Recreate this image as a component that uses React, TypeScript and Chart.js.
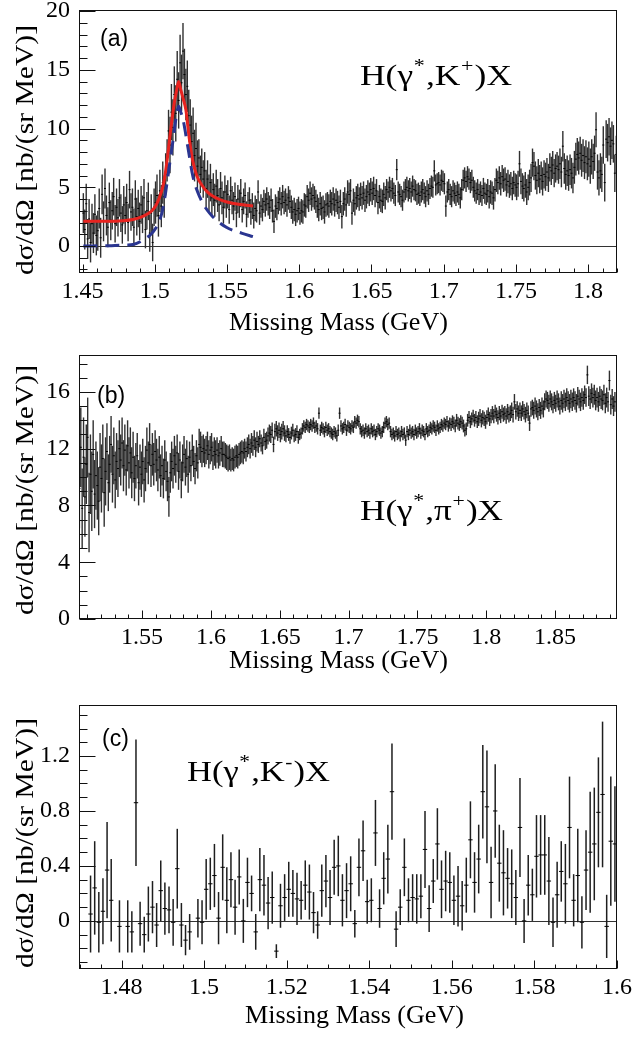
import React, { useEffect, useRef } from 'react';
import { Chart, registerables } from 'chart.js';

Chart.register(...registerables);

const SERIF = '"Liberation Serif", "Times New Roman", serif';
const SANS = '"Liberation Sans", Arial, sans-serif';
Chart.defaults.font.family = SERIF;

// ---------------- common text ----------------
const X_TITLE = 'Missing Mass (GeV)';
const Y_TITLE = 'dσ/dΩ [nb/(sr MeV)]';

// ---------------- panel (a): H(γ*,K+)X ----------------
const A_BIN_START = 1.4505; // centre of first 1 MeV bin (GeV)
const A_BIN_WIDTH = 0.001;
const A_VALUES = [
  2.8,1.4,3.6,0.6,2.3,0.3,1.9,1.1,2.7,0.9,
  1.3,3.2,0.7,4.4,2.1,4.9,2.6,1.6,3.7,2.2,
  3.0,4.2,1.9,3.3,2.4,4.1,2.8,1.8,3.5,2.6,
  3.7,2.0,4.8,2.9,3.3,1.6,4.0,2.5,3.2,2.1,
  3.5,2.7,4.1,1.4,3.0,3.8,1.1,2.8,0.3,3.3,
  3.7,4.3,2.6,4.7,3.4,5.4,4.2,6.1,7.3,9.8,
  8.6,11.4,10.1,12.9,11.3,14.2,12.4,15.6,13.9,16.6,
  14.6,12.9,13.6,11.1,10.3,8.9,9.6,7.7,8.3,6.8,
  7.5,6.1,6.7,5.7,6.4,4.9,5.7,4.5,5.4,4.1,
  4.8,3.9,5.1,4.3,3.5,4.9,4.1,3.3,4.6,3.8,
  4.4,3.1,4.7,3.9,3.4,4.2,2.8,4.0,3.6,4.5,
  3.1,3.8,4.3,2.7,3.5,3.9,2.9,3.4,2.6,3.2,
  3.0,4.6,2.8,3.4,3.1,3.8,3.5,4.0,3.6,3.3,
  3.9,3.0,2.1,3.4,3.2,3.7,4.0,3.6,4.2,3.7,
  3.9,3.5,4.1,3.8,3.3,2.9,3.1,2.7,3.0,3.2,
  2.8,3.0,2.9,3.5,3.4,4.2,3.9,4.5,4.0,4.3,
  4.1,3.8,3.4,3.1,3.6,3.2,3.3,2.9,3.5,3.6,
  3.4,3.8,3.6,4.0,3.5,3.9,3.7,3.3,3.8,2.5,
  3.6,4.0,3.5,4.6,4.4,4.7,2.8,3.9,3.6,4.1,
  4.3,4.0,4.4,4.1,4.5,3.9,4.2,4.6,4.4,4.8,
  4.5,4.9,4.3,4.7,3.7,4.2,3.9,3.8,4.4,4.1,
  4.8,4.6,5.0,4.7,4.9,4.5,4.3,6.5,4.6,4.4,
  4.2,3.9,4.6,4.8,5.0,4.7,4.9,4.6,5.1,4.8,
  4.7,4.4,4.5,4.3,4.6,4.8,4.5,4.2,4.7,4.4,
  4.9,5.1,5.0,6.4,5.2,5.3,5.4,5.2,5.6,5.5,
  5.3,3.4,4.6,4.8,4.4,4.2,4.7,4.5,4.3,4.6,
  4.4,4.1,4.8,5.6,5.8,5.5,5.9,5.7,5.4,5.6,
  5.0,4.7,4.5,4.8,4.4,4.6,4.3,4.9,4.5,4.4,
  4.7,4.2,4.6,4.5,4.1,4.8,5.6,5.4,5.8,5.3,
  5.9,5.6,5.7,5.2,5.5,5.1,5.3,4.9,5.4,5.2,
  5.0,5.3,7.0,5.5,5.1,4.9,5.2,4.6,5.0,5.4,
  5.8,7.1,6.8,6.0,5.6,6.2,5.7,6.0,5.5,6.1,
  5.9,6.3,5.8,6.7,6.4,6.9,6.2,6.6,6.8,6.5,
  7.0,6.3,8.5,6.6,6.1,6.4,6.0,6.5,6.2,5.8,
  6.7,7.4,7.8,7.5,7.9,7.3,7.7,7.1,7.6,7.0,
  7.4,6.8,7.6,7.2,7.9,9.9,6.3,5.8,6.4,6.1,
  8.6,5.4,9.1,8.8,9.3,8.5,9.0,8.7,6.2,7.8,
];
// statistical error, one value per block of 10 bins
const A_ERR_BLOCKS = [1.7,1.7,1.6,1.6,1.6,1.8,2.4,2.2,1.6,1.4,1.2,1.1,1.0,1.0,1.0,1.0,1.0,1.0,1.0,1.0,1.0,0.9,0.9,0.9,0.9,0.9,0.9,0.9,1.0,1.0,1.1,1.2,1.2,1.3,1.4,1.5,1.6];
// total fit (red) and Breit-Wigner part (blue dashed)
const A_FIT_X = [1.4505,1.465,1.478,1.485,1.4905,1.4945,1.498,1.501,1.5045,1.5065,1.5085,1.5114,1.5135,1.515,1.5165,1.518,1.5195,1.5215,1.5235,1.526,1.529,1.5325,1.536,1.54,1.545,1.55,1.558,1.568];
const A_FIT_Y = [2.1,2.1,2.15,2.25,2.45,2.7,3.0,3.5,4.6,5.6,7.3,10.3,12.2,13.2,14.0,13.3,12.6,11.6,9.5,7.4,6.0,5.2,4.65,4.25,3.95,3.75,3.55,3.4];
const A_BW_X = [1.4505,1.47,1.48,1.4849,1.4918,1.4988,1.5034,1.5058,1.508,1.5105,1.5126,1.5148,1.5165,1.518,1.5195,1.5229,1.5264,1.531,1.5379,1.5495,1.56,1.5679];
const A_BW_Y = [0.0,0.03,0.08,0.12,0.5,1.2,2.2,3.3,5.0,7.2,9.0,11.0,11.9,11.4,10.8,8.4,5.9,4.2,2.8,1.6,1.1,0.8];
const A_X_TICKS = [1.45,1.5,1.55,1.6,1.65,1.7,1.75,1.8];
const A_X_LABELS = ['1.45','1.5','1.55','1.6','1.65','1.7','1.75','1.8'];
const A_Y_TICKS = [0,5,10,15,20];
const A_Y_LABELS = ['0','5','10','15','20'];
const A_TAG = '(a)';
const A_REACTION = [['H(γ', false], ['*', true], [',K', false], ['+', true], [')X', false]];

// ---------------- panel (b): H(γ*,π+)X ----------------
const B_BIN_START = 1.5045;
const B_BIN_WIDTH = 0.001;
const B_VALUES = [
  9.2,12.1,7.8,11.4,8.6,10.9,12.8,7.5,10.2,9.0,
  11.6,8.8,10.1,9.4,8.3,10.7,9.9,11.3,8.9,10.4,
  11.8,9.6,10.9,12.3,10.2,11.5,9.8,11.1,10.6,12.0,
  11.2,12.4,10.8,11.9,10.5,12.2,11.0,11.7,10.3,11.4,
  9.9,10.8,11.5,9.6,10.7,10.2,11.1,9.8,10.6,11.9,
  11.0,12.3,10.8,11.6,10.9,11.8,11.2,10.5,11.4,10.1,
  10.8,9.9,11.2,10.4,9.7,8.6,10.3,11.1,10.6,11.5,
  10.9,11.7,10.4,11.2,9.8,11.0,11.6,10.7,11.3,10.2,
  11.4,10.8,11.9,11.1,10.6,11.5,11.0,12.3,12.1,11.8,
  12.0,11.7,11.9,12.2,11.6,11.9,12.1,11.5,11.8,11.6,
  11.9,11.5,11.7,12.0,11.6,11.6,11.5,11.4,11.3,11.4,
  11.2,11.3,11.2,11.4,11.5,11.4,11.6,11.7,11.8,11.7,
  12.0,11.8,12.1,12.3,12.0,12.4,12.2,12.6,12.1,12.5,
  12.3,12.7,12.4,12.2,12.8,12.5,12.6,12.9,13.1,13.0,
  13.3,12.3,13.2,13.4,13.1,13.3,13.0,13.2,13.4,13.1,
  12.9,13.2,13.0,12.8,13.1,13.3,12.9,13.0,13.2,12.8,
  13.0,13.1,13.4,13.6,13.5,13.7,13.6,13.5,13.7,13.6,
  13.8,13.5,13.6,13.4,14.5,13.3,13.5,13.4,13.2,13.5,
  13.3,13.4,13.2,13.1,13.0,13.2,13.1,12.9,13.3,14.5,
  13.6,13.4,13.5,13.7,13.3,13.6,13.5,13.4,13.6,13.5,
  13.9,13.8,14.0,13.9,13.4,13.2,13.3,13.1,13.4,13.2,
  13.3,13.1,13.4,13.2,13.3,13.0,13.2,13.4,13.3,13.1,
  13.2,13.5,13.8,13.9,13.7,13.8,13.2,13.0,13.1,12.9,
  13.2,13.0,13.1,12.9,13.2,13.0,13.1,12.6,13.2,13.0,
  13.3,13.1,13.2,13.0,13.3,13.1,13.2,13.4,13.1,13.3,
  13.2,13.0,13.4,13.2,13.3,13.5,13.4,13.6,13.5,13.3,
  13.6,13.4,13.5,13.7,13.6,13.8,13.7,13.9,13.6,13.8,
  13.7,13.9,13.8,13.6,14.0,13.8,13.7,13.9,13.8,13.6,
  13.3,13.4,14.0,14.2,13.9,14.1,14.3,14.0,14.2,13.9,
  14.1,14.3,14.0,14.2,14.1,13.9,14.2,14.4,14.1,14.3,
  14.5,14.3,14.6,14.4,14.2,14.5,14.3,14.6,14.4,14.5,
  14.3,14.6,14.4,14.5,14.7,14.4,15.3,14.6,14.8,14.5,
  14.7,14.5,14.8,14.6,14.4,14.7,14.5,13.8,14.8,14.9,
  14.7,15.0,14.8,14.6,14.9,14.7,15.0,14.8,15.3,15.5,
  15.4,15.2,15.5,15.3,15.1,15.4,15.2,15.5,15.3,15.0,
  15.4,15.2,15.5,15.3,15.6,15.4,15.2,15.5,15.3,15.6,
  15.4,15.2,15.7,15.5,15.3,15.6,15.4,15.8,15.6,17.2,
  15.7,15.5,15.9,15.6,15.8,15.4,15.6,15.3,15.7,15.5,
  15.4,15.8,15.2,15.6,15.3,16.8,15.1,15.5,15.0,15.3,
];
const B_ERR_BLOCKS = [2.8,2.4,2.0,1.8,1.6,1.5,1.4,1.3,1.1,1.0,0.9,0.8,0.7,0.6,0.55,0.45,0.4,0.4,0.4,0.4,0.4,0.4,0.4,0.4,0.4,0.4,0.4,0.45,0.45,0.5,0.5,0.55,0.55,0.6,0.6,0.65,0.65,0.7,0.7];
const B_X_TICKS = [1.55,1.6,1.65,1.7,1.75,1.8,1.85];
const B_X_LABELS = ['1.55','1.6','1.65','1.7','1.75','1.8','1.85'];
const B_Y_TICKS = [0,4,8,12,16];
const B_Y_LABELS = ['0','4','8','12','16'];
const B_TAG = '(b)';
const B_REACTION = [['H(γ', false], ['*', true], [',π', false], ['+', true], [')X', false]];

// ---------------- panel (c): H(γ*,K-)X ----------------
const C_BIN_START = 1.4705;
const C_BIN_WIDTH = 0.001;
const C_VALUES = [
  null,null,0.05,0.24,-0.01,0.07,0.37,0.15,null,-0.04,
  null,-0.04,-0.08,0.86,-0.02,-0.1,0.05,0.1,-0.03,0.22,
  0.09,0.08,-0.01,0.38,-0.03,-0.14,-0.08,null,0.02,-0.01,
  0.23,0.27,0.33,0.02,0.39,0.15,0.3,0.1,0.32,0.0,
  0.28,0.2,-0.08,0.3,0.26,0.13,0.17,-0.22,0.11,0.17,
  0.23,0.2,0.16,0.15,0.26,0.21,0.06,-0.03,0.22,0.29,
  0.17,0.39,0.4,0.15,0.22,0.27,-0.02,0.39,0.51,0.14,
  0.15,0.64,0.09,0.31,0.45,0.94,-0.06,0.1,0.39,0.15,
  0.17,0.16,0.18,0.52,0.09,0.29,0.56,0.23,0.29,0.28,
  0.15,0.18,0.11,0.26,0.59,0.28,0.45,0.94,0.83,0.28,
  0.8,0.42,0.35,0.31,0.27,0.17,0.68,0.0,0.26,0.19,
  0.47,0.48,0.48,0.29,-0.01,0.19,0.36,0.27,0.68,0.15,
  0.33,-0.01,0.37,0.5,0.56,0.79,0.92,-0.04,0.58,0.56,
];
const C_ERRORS = [
  0,0,0.28,0.34,0.22,0.24,0.35,0.3,0,0.19,
  0,0.19,0.15,0.46,0.16,0.13,0.2,0.19,0.16,0.22,
  0.19,0.17,0.17,0.29,0.16,0.11,0.13,0,0.14,0.16,
  0.22,0.19,0.23,0.19,0.24,0.24,0.2,0.2,0.2,0.16,
  0.18,0.13,0.13,0.23,0.22,0.19,0.19,0.05,0.16,0.17,
  0.2,0.17,0.19,0.14,0.18,0.2,0.15,0.1,0.19,0.19,
  0.2,0.2,0.22,0.19,0.2,0.2,0.1,0.21,0.22,0.16,
  0.16,0.24,0.14,0.19,0.25,0.35,0.13,0.13,0.21,0.16,
  0.17,0.18,0.16,0.28,0.17,0.16,0.26,0.21,0.22,0.22,
  0.18,0.22,0.18,0.2,0.28,0.22,0.25,0.34,0.41,0.26,
  0.34,0.28,0.31,0.22,0.25,0.2,0.36,0.16,0.22,0.19,
  0.3,0.29,0.29,0.32,0.18,0.24,0.22,0.29,0.37,0.19,
  0.34,0.19,0.29,0.44,0.41,0.4,0.53,0.23,0.47,0.42,
];
const C_X_TICKS = [1.48,1.5,1.52,1.54,1.56,1.58,1.6];
const C_X_LABELS = ['1.48','1.5','1.52','1.54','1.56','1.58','1.6'];
const C_Y_TICKS = [0,0.4,0.8,1.2];
const C_Y_LABELS = ['0','0.4','0.8','1.2'];
const C_TAG = '(c)';
const C_REACTION = [['H(γ', false], ['*', true], [',K', false], ['-', true], [')X', false]];

// ---------------- panel layout / styling ----------------
const PANELS: any[] = [
  {
    top: 0, height: 340, plotTop: 10, plotBottom: 273,
    xMin: 1.4475, xMax: 1.82, yMin: -2.3, yMax: 20.1,
    binStart: A_BIN_START, binWidth: A_BIN_WIDTH, values: A_VALUES,
    errorOf: (i: number) => A_ERR_BLOCKS[Math.floor(i / 10)],
    xTicks: A_X_TICKS, xLabels: A_X_LABELS, xMinor: 0.01,
    yTicks: A_Y_TICKS, yLabels: A_Y_LABELS, yMinor: 1,
    zeroLine: true, barWidth: 1.4, barColor: '#303030', markRadius: 1,
    curves: [
      { xs: A_FIT_X, ys: A_FIT_Y, color: '#e8231f', dash: [] },
      { xs: A_BW_X, ys: A_BW_Y, color: '#2a3590', dash: [14, 8] },
    ],
    tag: A_TAG, tagPos: [100, 46],
    reaction: A_REACTION, reactionPos: [360, 85], reactionWidth: 152,
    xTitlePos: [229, 330], yTitlePos: [33, 150],
  },
  {
    top: 340, height: 340, plotTop: 15, plotBottom: 279,
    xMin: 1.5042, xMax: 1.895, yMin: 0, yMax: 18.6,
    binStart: B_BIN_START, binWidth: B_BIN_WIDTH, values: B_VALUES,
    errorOf: (i: number) => B_ERR_BLOCKS[Math.floor(i / 10)],
    xTicks: B_X_TICKS, xLabels: B_X_LABELS, xMinor: 0.01,
    yTicks: B_Y_TICKS, yLabels: B_Y_LABELS, yMinor: 1,
    zeroLine: false, barWidth: 1.4, barColor: '#303030', markRadius: 1,
    curves: [],
    tag: B_TAG, tagPos: [97, 63],
    reaction: B_REACTION, reactionPos: [360, 180], reactionWidth: 143,
    xTitlePos: [229, 328], yTitlePos: [33, 150],
  },
  {
    top: 680, height: 361, plotTop: 25, plotBottom: 289,
    xMin: 1.4697, xMax: 1.6, yMin: -0.35, yMax: 1.571,
    binStart: C_BIN_START, binWidth: C_BIN_WIDTH, values: C_VALUES,
    errorOf: (i: number) => C_ERRORS[i],
    xTicks: C_X_TICKS, xLabels: C_X_LABELS, xMinor: 0.005,
    yTicks: C_Y_TICKS, yLabels: C_Y_LABELS, yMinor: 0.1,
    zeroLine: true, barWidth: 1.5, barColor: '#1e1e1e', markRadius: 2.2,
    curves: [],
    tag: C_TAG, tagPos: [102, 66],
    reaction: C_REACTION, reactionPos: [187, 101], reactionWidth: 143,
    xTitlePos: [245, 343], yTitlePos: [33, 163],
  },
];
const Y_TITLE_LENGTH = 250;
const X_TITLE_LENGTH = 219;

function fillStretched(ctx: CanvasRenderingContext2D, text: string, x: number, y: number, width: number) {
  const w = ctx.measureText(text).width;
  ctx.save();
  ctx.translate(x, y);
  ctx.scale(width / w, 1);
  ctx.fillText(text, 0, 0);
  ctx.restore();
}

function drawRich(ctx: CanvasRenderingContext2D, parts: any[], x: number, y: number, size: number, width: number) {
  ctx.textAlign = 'left';
  ctx.textBaseline = 'alphabetic';
  const fontOf = (sup: boolean) => `${sup ? size * 0.62 : size}px ${SERIF}`;
  let total = 0;
  for (const [t, sup] of parts) { ctx.font = fontOf(sup); total += ctx.measureText(t).width + (sup ? 1.5 : 0); }
  ctx.save();
  ctx.translate(x, y);
  ctx.scale(width / total, 1);
  let cx = 0;
  for (const [t, sup] of parts) {
    ctx.font = fontOf(sup);
    ctx.fillText(t, cx + (sup ? 0.5 : 0), sup ? -size * 0.42 : 0);
    cx += ctx.measureText(t).width + (sup ? 1.5 : 0);
  }
  ctx.restore();
}

function minorValues(min: number, max: number, step: number, majors: number[]) {
  const out: number[] = [];
  const i0 = Math.ceil(min / step - 1e-6);
  const i1 = Math.floor(max / step + 1e-6);
  for (let i = i0; i <= i1; i++) {
    const v = i * step;
    if (majors.some((m) => Math.abs(m - v) < step * 0.01)) continue;
    out.push(v);
  }
  return out;
}

function makeDecor(p: any) {
  return {
    id: 'decor',
    beforeDatasetsDraw(chart: any) {
      if (!p.zeroLine) return;
      const ctx = chart.ctx;
      const { left, right } = chart.chartArea;
      const y0 = Math.round(chart.scales.y.getPixelForValue(0)) + 0.5;
      ctx.save();
      ctx.strokeStyle = '#333';
      ctx.lineWidth = 1;
      ctx.beginPath();
      ctx.moveTo(left, y0);
      ctx.lineTo(right, y0);
      ctx.stroke();
      ctx.restore();
    },
    afterDatasetsDraw(chart: any) {
      const ctx = chart.ctx;
      const xs = chart.scales.x;
      const ys = chart.scales.y;
      const { left, right, top, bottom } = chart.chartArea;
      ctx.save();
      ctx.strokeStyle = '#111';
      ctx.lineWidth = 1;
      ctx.strokeRect(Math.round(left) + 0.5, Math.round(top) + 0.5, Math.round(right - left) - 1, Math.round(bottom - top) - 1);
      ctx.beginPath();
      const xb = Math.round(bottom) - 0.5;
      for (const v of p.xTicks) {
        const px = Math.round(xs.getPixelForValue(v)) + 0.5;
        ctx.moveTo(px, xb); ctx.lineTo(px, xb - 8);
      }
      for (const v of minorValues(p.xMin, p.xMax, p.xMinor, p.xTicks)) {
        const px = Math.round(xs.getPixelForValue(v)) + 0.5;
        ctx.moveTo(px, xb); ctx.lineTo(px, xb - 4);
      }
      const yl = Math.round(left) + 0.5;
      for (const v of p.yTicks) {
        const py = Math.round(ys.getPixelForValue(v)) + 0.5;
        ctx.moveTo(yl, py); ctx.lineTo(yl + 16, py);
      }
      for (const v of minorValues(p.yMin, p.yMax, p.yMinor, p.yTicks)) {
        const py = Math.round(ys.getPixelForValue(v)) + 0.5;
        ctx.moveTo(yl, py); ctx.lineTo(yl + 8, py);
      }
      ctx.stroke();
      ctx.restore();
    },
    afterDraw(chart: any) {
      const ctx = chart.ctx;
      ctx.save();
      ctx.fillStyle = '#000';
      ctx.textAlign = 'left';
      ctx.textBaseline = 'alphabetic';
      // x title
      ctx.font = `25px ${SERIF}`;
      fillStretched(ctx, X_TITLE, p.xTitlePos[0], p.xTitlePos[1], X_TITLE_LENGTH);
      // y title (rotated)
      ctx.font = `26px ${SERIF}`;
      ctx.save();
      ctx.translate(p.yTitlePos[0], p.yTitlePos[1]);
      ctx.rotate(-Math.PI / 2);
      fillStretched(ctx, Y_TITLE, -Y_TITLE_LENGTH / 2, 0, Y_TITLE_LENGTH);
      ctx.restore();
      // panel tag
      ctx.font = `23px ${SANS}`;
      ctx.fillText(p.tag, p.tagPos[0], p.tagPos[1]);
      // reaction
      drawRich(ctx, p.reaction, p.reactionPos[0], p.reactionPos[1], 30, p.reactionWidth);
      ctx.restore();
    },
  };
}

function createChart(canvas: HTMLCanvasElement, p: any) {
  const bars: any[] = [];
  const marks: any[] = [];
  p.values.forEach((v: number | null, i: number) => {
    if (v === null || v === undefined) return;
    const e = p.errorOf(i);
    const x = p.binStart + p.binWidth * i;
    bars.push({ x, y: [v - e, v + e] });
    marks.push({ x, y: v });
  });
  const datasets: any[] = [
    {
      type: 'bar', data: bars, backgroundColor: p.barColor, borderWidth: 0,
      barThickness: p.barWidth, inflateAmount: 0, grouped: false, order: 5,
    },
    {
      type: 'line', data: marks, showLine: false, pointStyle: 'line',
      pointRadius: p.markRadius, pointBorderColor: '#000', pointBackgroundColor: '#000',
      pointBorderWidth: 1, order: 4,
    },
  ];
  p.curves.forEach((c: any, idx: number) => {
    datasets.push({
      type: 'line',
      data: c.xs.map((x: number, i: number) => ({ x, y: c.ys[i] })),
      borderColor: c.color, borderWidth: 3, borderDash: c.dash,
      pointRadius: 0, cubicInterpolationMode: 'monotone', fill: false,
      order: 2 - idx,
    });
  });
  const zeroPad = (s: any) => { s.paddingLeft = 0; s.paddingRight = 0; s.paddingTop = 0; s.paddingBottom = 0; };
  return new Chart(canvas, {
    type: 'bar',
    data: { datasets },
    plugins: [makeDecor(p)],
    options: {
      responsive: false,
      animation: false,
      devicePixelRatio: 1,
      events: [],
      layout: { padding: { left: 0, right: 634 - 617, top: p.plotTop, bottom: 0 } },
      plugins: { legend: { display: false }, tooltip: { enabled: false } },
      scales: {
        x: {
          type: 'linear', min: p.xMin, max: p.xMax, offset: false,
          grid: { display: false, drawTicks: false }, border: { display: false },
          ticks: {
            autoSkip: false, maxRotation: 0, minRotation: 0, padding: 4, color: '#000',
            font: { family: SERIF, size: 24 },
            callback: (_v: any, i: number) => p.xLabels[i],
          },
          afterBuildTicks: (s: any) => { s.ticks = p.xTicks.map((v: number) => ({ value: v })); },
          afterFit: (s: any) => { s.height = p.height - p.plotBottom; zeroPad(s); },
        },
        y: {
          type: 'linear', min: p.yMin, max: p.yMax,
          grid: { display: false, drawTicks: false }, border: { display: false },
          ticks: {
            autoSkip: false, padding: 9, color: '#000',
            font: { family: SERIF, size: 24 },
            callback: (_v: any, i: number) => p.yLabels[i],
          },
          afterBuildTicks: (s: any) => { s.ticks = p.yTicks.map((v: number) => ({ value: v })); },
          afterFit: (s: any) => { s.width = 79; zeroPad(s); },
        },
      },
    } as any,
  });
}

export default function App() {
  const refs = [useRef<HTMLCanvasElement>(null), useRef<HTMLCanvasElement>(null), useRef<HTMLCanvasElement>(null)];
  useEffect(() => {
    const charts = PANELS.map((p, i) => createChart(refs[i].current as HTMLCanvasElement, p));
    return () => charts.forEach((c) => c.destroy());
  }, []);
  return (
    <div style={{ position: 'absolute', left: 0, top: 0, width: 634, height: 1041, background: '#fff' }}>
      {PANELS.map((p, i) => (
        <canvas
          key={i}
          ref={refs[i]}
          width={634}
          height={p.height}
          style={{ position: 'absolute', left: 0, top: p.top, width: 634, height: p.height, display: 'block' }}
        />
      ))}
    </div>
  );
}
